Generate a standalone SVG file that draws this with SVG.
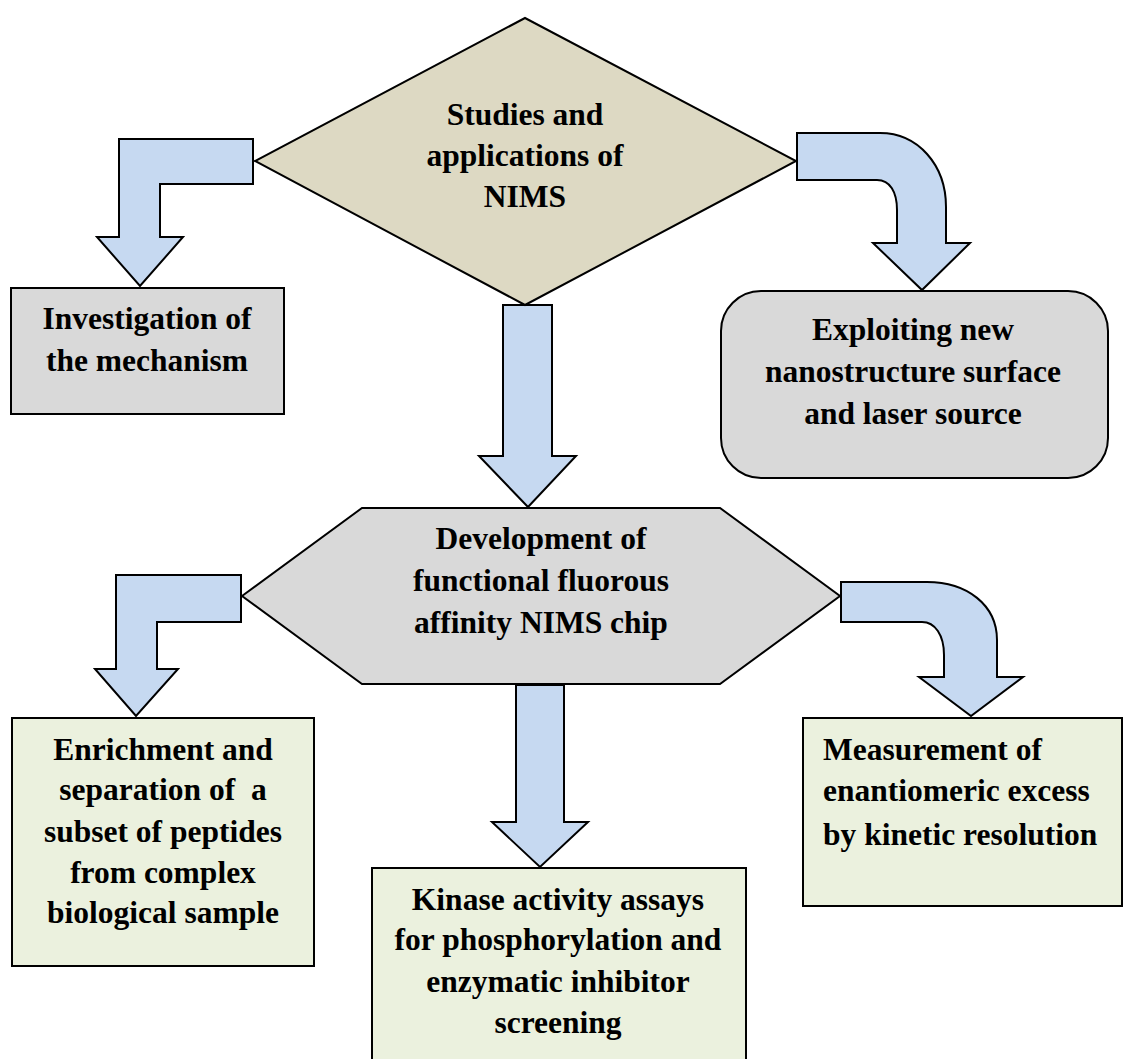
<svg xmlns="http://www.w3.org/2000/svg" width="1128" height="1059" viewBox="0 0 1128 1059">
<style>
.arrow{fill:#c6d9f1;stroke:#000;stroke-width:2;stroke-linejoin:miter}
.shape{stroke:#000;stroke-width:2}
.gray{fill:#d9d9d9}
.green{fill:#ebf1de}
.tan{fill:#ddd9c3}
text{font-family:"Liberation Serif","Times New Roman",serif;font-weight:bold;font-size:31.5px;fill:#000}
.c{text-anchor:middle}
</style>
<rect width="1128" height="1059" fill="#fff"/>
<g id="connectors">
<path class="arrow" d="M119 139 L253 139 L253 184 L160 184 L160 237 L183 237 L140 286 L97 237 L119 237 Z"/>
<path class="arrow" d="M797 133 L880 133 C918 133 946 165 946 207 L946 243 L970 243 L922 290 L873 243 L897 243 L897 210 C897 192 890 180 877 180 L797 180 Z"/>
<path class="arrow" d="M503 305 L552 305 L552 456 L576 456 L528 507 L479 456 L503 456 Z"/>
<path class="arrow" d="M116 575 L241 575 L241 622 L157 622 L157 669 L178 669 L136 716 L95 669 L116 669 Z"/>
<path class="arrow" d="M841 582 L927 582 C967 582 997 605 997 640 L997 677 L1023 677 L971 716 L919 677 L944 677 L944 655 C944 635 935 622 922 622 L841 622 Z"/>
<path class="arrow" d="M516 685 L564 685 L564 822 L588 822 L540 867 L492 822 L516 822 Z"/>
</g>
<g id="node-studies">
<polygon class="shape tan" points="525,18 796,161 525,305 255,161"/>
<text class="c" x="525" y="125">Studies and</text>
<text class="c" x="525" y="166">applications of</text>
<text class="c" x="525" y="207">NIMS</text>
</g>
<g id="node-investigation">
<rect class="shape gray" x="11" y="288" width="273" height="126"/>
<text class="c" x="147" y="329">Investigation of</text>
<text class="c" x="147" y="371">the mechanism</text>
</g>
<g id="node-exploiting">
<rect class="shape gray" x="721" y="291" width="387" height="187" rx="40" ry="40"/>
<text class="c" x="913" y="340">Exploiting new</text>
<text class="c" x="913" y="382">nanostructure surface</text>
<text class="c" x="913" y="424">and laser source</text>
</g>
<g id="node-development">
<polygon class="shape gray" points="242,596 362,508 720,508 840,596 720,684 362,684"/>
<text class="c" x="541" y="549">Development of</text>
<text class="c" x="541" y="591">functional fluorous</text>
<text class="c" x="541" y="633">affinity NIMS chip</text>
</g>
<g id="node-enrichment">
<rect class="shape green" x="12" y="718" width="302" height="248"/>
<text class="c" x="163" y="760">Enrichment and</text>
<text class="c" x="163" y="800" xml:space="preserve">separation of  a</text>
<text class="c" x="163" y="842">subset of peptides</text>
<text class="c" x="163" y="883">from complex</text>
<text class="c" x="163" y="923">biological sample</text>
</g>
<g id="node-kinase">
<rect class="shape green" x="372" y="868" width="374" height="200"/>
<text class="c" x="558" y="910">Kinase activity assays</text>
<text class="c" x="558" y="950">for phosphorylation and</text>
<text class="c" x="558" y="992">enzymatic inhibitor</text>
<text class="c" x="558" y="1033">screening</text>
</g>
<g id="node-measurement">
<rect class="shape green" x="803" y="718" width="319" height="188"/>
<text x="823" y="760">Measurement of</text>
<text x="823" y="801">enantiomeric excess</text>
<text x="823" y="845">by kinetic resolution</text>
</g>
</svg>
